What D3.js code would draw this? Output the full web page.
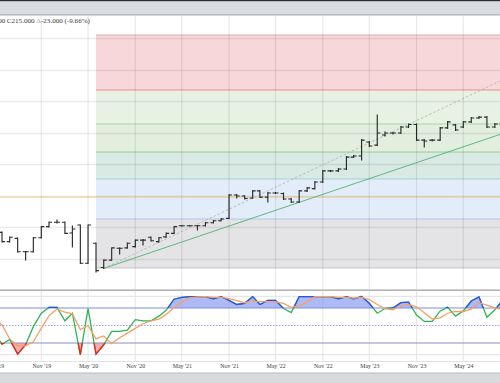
<!DOCTYPE html>
<html><head><meta charset="utf-8">
<script src="https://cdn.jsdelivr.net/npm/d3@7"></script>
<style>body{margin:0;background:#fff;overflow:hidden}svg{display:block}</style>
</head><body>
<svg id="c" width="500" height="383"></svg>
<script>
// ---- data ----
const barStartMonth = "2019-06";
const opens  = [146.6,140.7,142.8,134.3,134.3,143.2,150.2,153.0,153.0,146.2,151.3,127.0,139.7,124.3,129.0,136.5,136.7,137.5,141.7,143.5,140.7,143.7,146.0,150.8,150.8,150.8,150.8,152.7,154.0,155.5,170.3,169.7,168.4,172.9,169.0,171.6,171.3,167.8,165.9,172.9,174.4,178.6,185.6,185.6,186.8,194.4,195.1,204.0,202.0,208.4,209.7,209.7,213.5,215.1,205.2,205.2,205.2,212.9,214.8,213.5,216.7,219.2,219.8,213.5,215.4];
const highs  = [146.8,143.7,143.0,134.4,143.3,150.3,153.2,154.4,153.2,150.6,151.3,151.3,139.8,129.0,136.7,136.7,139.8,141.7,142.1,143.7,143.3,146.2,150.3,151.0,151.0,151.0,152.9,154.1,155.4,170.6,170.6,169.8,173.2,173.2,171.9,171.9,171.6,168.1,173.2,175.1,178.9,185.9,185.9,187.1,194.8,195.4,205.6,204.3,221.1,210.3,210.0,213.8,215.4,215.4,205.6,205.6,213.2,217.0,215.1,217.0,219.5,220.2,220.2,215.7,216.2];
const lows   = [140.5,140.5,134.1,129.0,134.1,143.0,150.0,152.5,145.9,137.3,126.8,126.8,121.4,123.7,128.9,132.9,136.5,137.3,138.6,141.1,140.5,143.5,145.9,150.6,150.6,148.1,150.6,152.5,153.8,155.4,168.4,167.8,168.1,168.7,165.9,171.3,167.5,165.6,165.6,172.5,174.1,178.3,185.2,185.2,186.5,194.1,192.5,201.1,201.7,207.8,209.0,209.4,213.2,204.9,200.8,204.6,204.9,212.6,211.3,213.2,216.4,218.9,213.2,213.2,212.0];
const closes = [140.7,143.5,134.3,134.3,143.2,150.2,153.0,153.0,146.0,148.7,127.0,151.3,122.3,129.0,136.7,136.5,139.7,141.7,141.7,141.3,143.2,146.0,150.2,150.8,150.8,150.8,152.7,154.0,155.1,170.3,169.7,168.1,172.9,169.0,171.6,171.6,167.8,165.9,172.9,174.8,178.6,185.6,185.6,186.8,194.4,195.1,205.2,201.4,209.7,209.7,209.7,213.5,215.1,205.2,204.6,205.2,212.9,216.7,211.6,216.7,219.2,219.8,213.5,215.4,215.0];

const stochStartMonth = "2019-05";
const stochK = [38,18,26,1,17,48,71,81,81,58,71,0,79,1,17,40,40,42,60,58,58,66,76,95,98,99.5,99.5,99.5,95.5,99.5,93,86,88,99.5,86,93,93,79,72,99.5,99.5,99.5,99.5,99.5,95.5,99.5,95.5,99.5,88,71,79,80,89,90,68,57,57,75,81,66,75,92,99,64,77,93];
const stochD = [63,51,27,15,15,22,45,67,78,73,70,43,50,27,32,19,29,37,45,53,58,61,69,81,90,97.5,99,99.5,98,98,96,92.5,89,92,91,91,90.5,88,81,83.5,90,99.5,99.5,99.5,98,98,97,98,94.5,86,79,77,83,86,82,72,61,63,71,74,74,78,89,85,80,78];
const stochLevels = [20, 50, 80];
const stochGrid = [0, 100];

const fibStartMonth = "2020-06";
const fibLevels = [124.0, 155.1, 180.5, 197.6, 215.4, 237.0, 271.9];
const hLineLevel = 169.0;
const trendSolid  = [["2020-07", 123.7], ["2025-01", 214.4]];
const trendDashed = [["2020-07", 123.7], ["2025-01", 250.5]];

const priceGrid = [130,150,170,190,210,230,250,270];
const xTickMonths = ["2019-05","2019-11","2020-05","2020-11","2021-05","2021-11","2022-05","2022-11","2023-05","2023-11","2024-05"];

// ---- drawing ----
const W = 500, H = 383;
const parse = d3.timeParse("%Y-%m");
const svg = d3.select("#c");

const x = d3.scaleTime().domain([parse("2019-11"), parse("2024-05")]).range([41.3, 463.3]);
const y = d3.scaleLinear().domain([130, 270]).range([258.5, 38]);
const ys = d3.scaleLinear().domain([0, 100]).range([354.7, 296.3]);

const mainTop = 15, mainBot = 289, subTop = 291, subBot = 361;

// top header
svg.append("rect").attr("x",0).attr("y",0).attr("width",W).attr("height",15).attr("fill","#d8dbdf");
svg.append("rect").attr("x",0).attr("y",0).attr("width",W).attr("height",1.2).attr("fill","#2d2f33");
svg.append("line").attr("x1",0).attr("x2",W).attr("y1",14.8).attr("y2",14.8).attr("stroke","#aeb2b7").attr("stroke-width",1.2);

const defs = svg.append("defs");
defs.append("clipPath").attr("id","mainClip").append("rect").attr("x",0).attr("y",mainTop+0.5).attr("width",W).attr("height",mainBot-mainTop-0.5);
defs.append("clipPath").attr("id","subClip").append("rect").attr("x",0).attr("y",subTop).attr("width",W).attr("height",subBot-subTop);
defs.append("clipPath").attr("id","above80").append("rect").attr("x",-50).attr("y",subTop).attr("width",W+100).attr("height",ys(80)-subTop);
defs.append("clipPath").attr("id","below20").append("rect").attr("x",-50).attr("y",ys(20)).attr("width",W+100).attr("height",subBot-ys(20));

const main = svg.append("g").attr("clip-path","url(#mainClip)");

// fib zones
const zoneFill = ["#e4e4e6","#e3edf9","#d9e9e4","#e2efdf","#e7f2e4","#f8d7da"];
const zoneLine = ["#c2c2c6","#b3c6e3","#a9cfd6","#94cc94","#a9d6a2","#ef8a8a","#d9aeb2"];
const fx0 = x(parse(fibStartMonth));
for (let i = 0; i < fibLevels.length - 1; i++) {
  main.append("rect").attr("x",fx0).attr("width",W-fx0+20)
    .attr("y",y(fibLevels[i+1])).attr("height",y(fibLevels[i])-y(fibLevels[i+1]))
    .attr("fill",zoneFill[i]);
}
// gridlines
main.selectAll(".hg").data(priceGrid).enter().append("line")
  .attr("x1",0).attr("x2",W).attr("y1",d=>Math.round(y(d))+0.5).attr("y2",d=>Math.round(y(d))+0.5)
  .attr("stroke","rgba(0,0,0,0.08)").attr("stroke-width",1.4);
const xTickDates = xTickMonths.map(parse);
svg.selectAll(".vg").data(xTickDates).enter().append("line")
  .attr("x1",d=>x(d)).attr("x2",d=>x(d)).attr("y1",mainTop+1).attr("y2",subBot)
  .attr("stroke","rgba(0,0,0,0.09)").attr("stroke-width",1.2);
fibLevels.forEach((v,i)=>{
  main.append("line").attr("x1",fx0).attr("x2",W+20).attr("y1",y(v)).attr("y2",y(v))
    .attr("stroke",zoneLine[i]).attr("stroke-width",1);
});
// horizontal level
main.append("line").attr("x1",0).attr("x2",W).attr("y1",y(hLineLevel)).attr("y2",y(hLineLevel))
  .attr("stroke","#f0c27a").attr("stroke-width",1).attr("opacity",0.85);
// trend lines
const tl = d3.line().x(d=>x(parse(d[0]))).y(d=>y(d[1]));
main.append("path").attr("d",tl(trendDashed)).attr("fill","none").attr("stroke","#b4b4b4").attr("stroke-width",0.9).attr("stroke-dasharray","2.5,2");
main.append("path").attr("d",tl(trendSolid)).attr("fill","none").attr("stroke","#5fb77f").attr("stroke-width",1);

// OHLC bars
const bStart = parse(barStartMonth);
const bars = opens.map((o,i)=>({d:d3.timeMonth.offset(bStart,i),o,h:highs[i],l:lows[i],c:closes[i]}));
const tk = 3;
const bg = main.append("g").attr("stroke","#2a2a2a").attr("stroke-width",1.15).attr("fill","none");
bars.forEach(b=>{
  const bx = x(b.d);
  bg.append("line").attr("x1",bx).attr("x2",bx).attr("y1",y(b.h)-0.5).attr("y2",y(b.l)+0.5);
  bg.append("line").attr("x1",bx-tk).attr("x2",bx).attr("y1",y(b.o)).attr("y2",y(b.o));
  bg.append("line").attr("x1",bx).attr("x2",bx+tk).attr("y1",y(b.c)).attr("y2",y(b.c));
});

// header text
const ht = svg.append("g").attr("font-family","Liberation Serif, DejaVu Serif, serif").attr("font-size",7.1).attr("fill","#3a3a3a");
ht.append("text").attr("x",5.3).attr("y",22.6).attr("text-anchor","end").text("L212.000");
const t2 = ht.append("text").attr("x",6.8).attr("y",22.6);
t2.append("tspan").text("C215.000 ");
t2.append("tspan").attr("fill","#9a9a9a").text("\u0394");
t2.append("tspan").text("-23.000 (-9.66%)");

// panel separators
svg.append("line").attr("x1",0).attr("x2",W).attr("y1",mainBot+0.5).attr("y2",mainBot+0.5).attr("stroke","#cfcfcf").attr("stroke-width",1);
svg.append("line").attr("x1",0).attr("x2",W).attr("y1",subTop-0.5).attr("y2",subTop-0.5).attr("stroke","#b5b5b5").attr("stroke-width",1);

// stochastic panel
const sub = svg.append("g").attr("clip-path","url(#subClip)");
sub.selectAll(".sg").data(stochGrid).enter().append("line")
  .attr("x1",0).attr("x2",W).attr("y1",d=>ys(d)).attr("y2",d=>ys(d)).attr("stroke","#e0e0e0").attr("stroke-width",1);
const sStart = parse(stochStartMonth);
const sd = stochK.map((k,i)=>({d:d3.timeMonth.offset(sStart,i),k,dd:stochD[i]}));
const areaHi = d3.area().x(p=>x(p.d)).y0(ys(80)).y1(p=>ys(p.k));
const areaLo = d3.area().x(p=>x(p.d)).y0(ys(20)).y1(p=>ys(p.k));
sub.append("path").attr("d",areaHi(sd)).attr("fill","#7d8ff0").attr("opacity",0.62).attr("clip-path","url(#above80)");
sub.append("path").attr("d",areaLo(sd)).attr("fill","#f07a7a").attr("opacity",0.62).attr("clip-path","url(#below20)");
sub.append("line").attr("x1",0).attr("x2",W).attr("y1",ys(stochLevels[2])).attr("y2",ys(stochLevels[2])).attr("stroke","#7f8de0").attr("stroke-width",1.1);
sub.append("line").attr("x1",0).attr("x2",W).attr("y1",ys(stochLevels[0])).attr("y2",ys(stochLevels[0])).attr("stroke","#8c8ccc").attr("stroke-width",1.1);
sub.append("line").attr("x1",0).attr("x2",W).attr("y1",ys(stochLevels[1])).attr("y2",ys(stochLevels[1])).attr("stroke","#a3a3e6").attr("stroke-width",1).attr("stroke-dasharray","1.5,1.5");
const lk = d3.line().x(p=>x(p.d)).y(p=>ys(p.k));
const ld = d3.line().x(p=>x(p.d)).y(p=>ys(p.dd));
sub.append("path").attr("d",lk(sd)).attr("fill","none").attr("stroke","#2fb553").attr("stroke-width",1.3);
sub.append("path").attr("d",lk(sd)).attr("fill","none").attr("stroke","#2f4ff0").attr("stroke-width",1.3).attr("clip-path","url(#above80)");
sub.append("path").attr("d",lk(sd)).attr("fill","none").attr("stroke","#f02020").attr("stroke-width",1.3).attr("clip-path","url(#below20)");
sub.append("path").attr("d",ld(sd)).attr("fill","none").attr("stroke","#f5a062").attr("stroke-width",1.3);
svg.append("line").attr("x1",0).attr("x2",W).attr("y1",subBot+0.5).attr("y2",subBot+0.5).attr("stroke","#e2e2e2").attr("stroke-width",1);

// x axis labels
const ax = d3.axisBottom(x).tickValues(xTickDates).tickFormat(d3.timeFormat("%b '%y")).tickSize(0).tickPadding(0);
const axg = svg.append("g").attr("transform",`translate(0,${364})`).call(ax);
axg.select(".domain").remove();
axg.selectAll("text").attr("font-family","Liberation Serif, DejaVu Serif, serif").attr("font-size",5.9).attr("fill","#3a3a3a").attr("dy","0.71em");

// bottom band
svg.append("rect").attr("x",0).attr("y",373).attr("width",W).attr("height",10).attr("fill","#d8dadd");
svg.append("line").attr("x1",0).attr("x2",W).attr("y1",373).attr("y2",373).attr("stroke","#b9bcc0").attr("stroke-width",1);
</script>
</body></html>
